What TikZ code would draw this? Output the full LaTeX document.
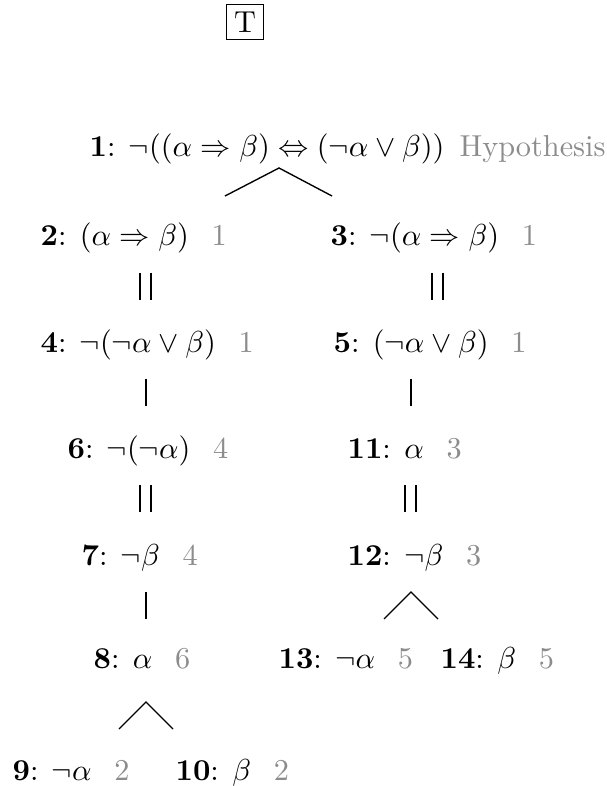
\documentclass[tikz,border=0pt]{standalone}
\usepackage{amsmath}
\usepackage{amssymb}
\usepackage{xcolor}
\usetikzlibrary{positioning}

\colorlet{jgray}{black!45}
\newcommand{\jst}[1]{\hspace{7.5pt}\textcolor{jgray}{#1}}

\begin{document}
\begin{tikzpicture}[
    x=0.33pt, y=-0.33pt,
    frm/.style={anchor=base west, inner sep=0pt},
    hdr/.style={draw, inner sep=2.4pt, line width=0.45pt},
    stem/.style={line width=0.45pt},
    branch/.style={line width=0.45pt},
]
  \useasboundingbox (0,0) rectangle (607,786);

  %% ---- header ----
  \node[hdr] (top) at (245,22) {T};

  %% ---- root ----
  \node[frm] (n1)  at (89,157)  {$\mathbf{1}$: $\neg((\alpha\Rightarrow\beta)\Leftrightarrow(\neg\alpha\vee\beta))$\hspace{5pt}\textcolor{jgray}{Hypothesis}};

  %% ---- left branch ----
  \node[frm] (n2)  at (40,246)  {$\mathbf{2}$: $(\alpha\Rightarrow\beta)$\jst{1}};
  \node[frm] (n4)  at (40,352)  {$\mathbf{4}$: $\neg(\neg\alpha\vee\beta)$\jst{1}};
  \node[frm] (n6)  at (67,458)  {$\mathbf{6}$: $\neg(\neg\alpha)$\jst{4}};
  \node[frm] (n7)  at (81,565)  {$\mathbf{7}$: $\neg\beta$\jst{4}};
  \node[frm] (n8)  at (93,668)  {$\mathbf{8}$: $\alpha$\jst{6}};
  \node[frm] (n9)  at (12,780)  {$\mathbf{9}$: $\neg\alpha$\jst{2}};
  \node[frm] (n10) at (175,780) {$\mathbf{10}$: $\beta$\jst{2}};

  %% ---- right branch ----
  \node[frm] (n3)  at (330,246) {$\mathbf{3}$: $\neg(\alpha\Rightarrow\beta)$\jst{1}};
  \node[frm] (n5)  at (333,352) {$\mathbf{5}$: $(\neg\alpha\vee\beta)$\jst{1}};
  \node[frm] (n11) at (347,458) {$\mathbf{11}$: $\alpha$\jst{3}};
  \node[frm] (n12) at (347,565) {$\mathbf{12}$: $\neg\beta$\jst{3}};
  \node[frm] (n13) at (278,668) {$\mathbf{13}$: $\neg\alpha$\jst{5}};
  \node[frm] (n14) at (440,668) {$\mathbf{14}$: $\beta$\jst{5}};

  %% ---- stems (| and ||) ----
  \foreach \nm/\xx/\yy in {d2/140/273, d2/151/273, d3/432/273, d3/443/273,
                          d6/140/485, d6/151/485, d11/405/485, d11/416/485,
                          s4/146/379, s5/411/379, s7/146/592}
    \draw[stem] (\xx,\yy) -- ++(0,27);

  %% ---- branch points ----
  \coordinate (a1)  at (279,168); \coordinate (a1l)  at (225,196); \coordinate (a1r)  at (332,196);
  \coordinate (a12) at (411,592); \coordinate (a12l) at (384,619); \coordinate (a12r) at (438,619);
  \coordinate (a8)  at (146,702); \coordinate (a8l)  at (119,729); \coordinate (a8r)  at (173,729);

  \draw[branch] (a1l)  -- (a1)  -- (a1r);
  \draw[branch] (a12l) -- (a12) -- (a12r);
  \draw[branch] (a8l)  -- (a8)  -- (a8r);

\end{tikzpicture}
\end{document}
